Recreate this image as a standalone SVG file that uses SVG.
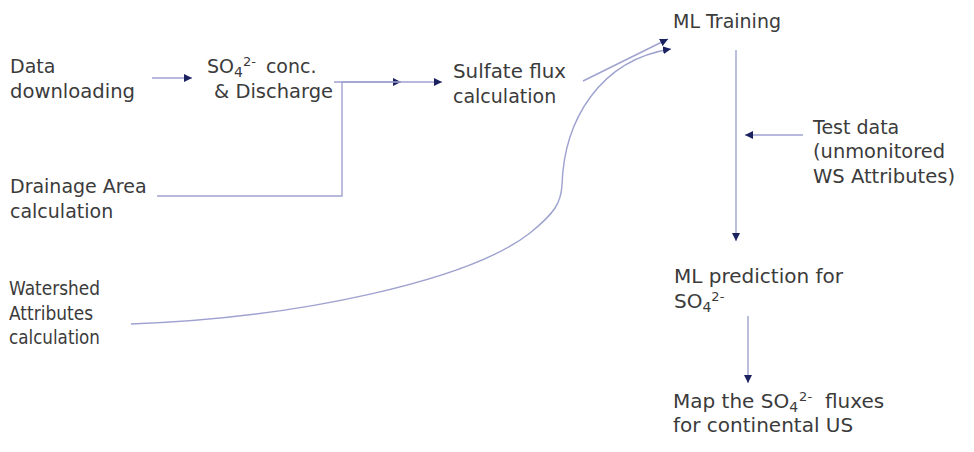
<svg xmlns="http://www.w3.org/2000/svg" width="974" height="452" viewBox="0 0 974 452">
<style>
  text { font-family: "DejaVu Sans", Verdana, sans-serif; font-size: 19px; fill: #3b3b3b; }
  .big { font-size: 20px; }
  .sub { font-size: 14px; }
  .sup { font-size: 13px; }
  .c { fill: none; stroke: #9ea2cf; stroke-width: 1.4; }
</style>
<defs>
  <marker id="ah" viewBox="0 0 10 10" refX="10" refY="5" markerWidth="8" markerHeight="8" markerUnits="userSpaceOnUse" orient="auto">
    <path d="M0,0 L10,5 L0,10 z" fill="#1c2160"/>
  </marker>
</defs>
<rect width="974" height="452" fill="#ffffff"/>
<g id="connectors">
  <line class="c" x1="152" y1="78" x2="192" y2="78" marker-end="url(#ah)"/>
  <line class="c" x1="334" y1="82" x2="401" y2="82" marker-end="url(#ah)"/>
  <polyline class="c" points="157,196 342,196 342,82 442,82" marker-end="url(#ah)"/>
  <line class="c" x1="583" y1="81" x2="668" y2="39" marker-end="url(#ah)"/>
  <path class="c" d="M131,324 C300,318 470,280 530,233 C556,212 561,202 562,185 C564,120 600,60 671,49" marker-end="url(#ah)"/>
  <line class="c" x1="736" y1="50" x2="736" y2="241" marker-end="url(#ah)"/>
  <line class="c" x1="803" y1="135" x2="745" y2="135" marker-end="url(#ah)"/>
  <line class="c" x1="748" y1="316" x2="748" y2="383" marker-end="url(#ah)"/>
</g>
<g id="data-downloading">
  <text x="10" y="73">Data</text>
  <text x="10" y="98" textLength="125" lengthAdjust="spacingAndGlyphs">downloading</text>
</g>
<g id="so4-conc">
  <text x="207" y="73">SO<tspan class="sub" dy="4">4</tspan><tspan class="sup" dy="-11">2-</tspan><tspan dx="10" dy="7">conc.</tspan></text>
  <text x="214" y="98" textLength="119" lengthAdjust="spacingAndGlyphs">&amp; Discharge</text>
</g>
<g id="drainage-area">
  <text x="10" y="193">Drainage Area</text>
  <text x="10" y="218">calculation</text>
</g>
<g id="sulfate-flux">
  <text x="453" y="78" textLength="113" lengthAdjust="spacingAndGlyphs">Sulfate flux</text>
  <text x="453" y="103">calculation</text>
</g>
<g id="watershed-attributes">
  <text x="9" y="295" textLength="91" lengthAdjust="spacingAndGlyphs">Watershed</text>
  <text x="9" y="320" textLength="84" lengthAdjust="spacingAndGlyphs">Attributes</text>
  <text x="9" y="344" textLength="91" lengthAdjust="spacingAndGlyphs">calculation</text>
</g>
<g id="ml-training">
  <text x="673" y="28">ML Training</text>
</g>
<g id="test-data">
  <text x="813" y="134">Test data</text>
  <text x="813" y="158" textLength="132" lengthAdjust="spacingAndGlyphs">(unmonitored</text>
  <text x="813" y="183" textLength="142" lengthAdjust="spacingAndGlyphs">WS Attributes)</text>
</g>
<g id="ml-prediction">
  <text class="big" x="674" y="283">ML prediction for</text>
  <text class="big" x="674" y="308">SO<tspan class="sub" dy="4">4</tspan><tspan class="sup" dy="-11">2-</tspan></text>
</g>
<g id="map-fluxes">
  <text class="big" x="673" y="408">Map the SO<tspan class="sub" dy="4">4</tspan><tspan class="sup" dx="1" dy="-11">2-</tspan><tspan x="825" dy="7">fluxes</tspan></text>
  <text class="big" x="673" y="432">for continental US</text>
</g>
</svg>
